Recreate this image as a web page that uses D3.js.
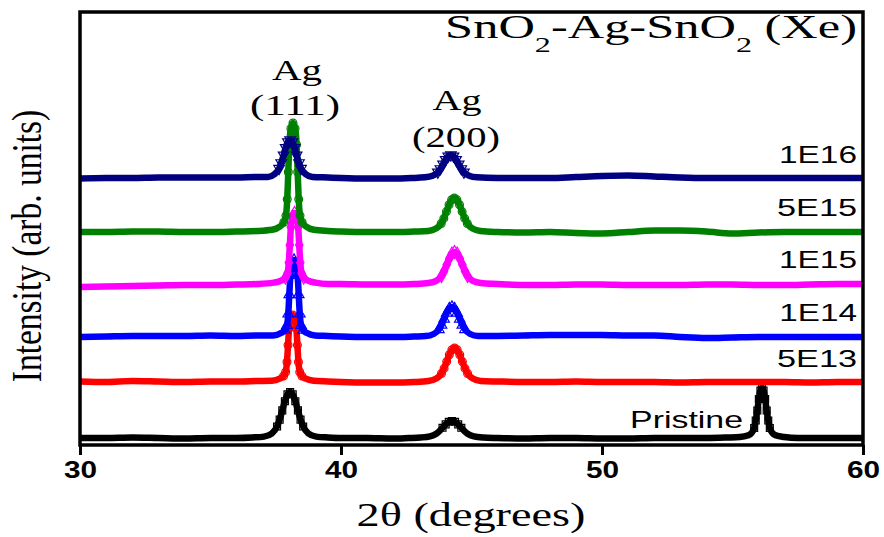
<!DOCTYPE html>
<html>
<head>
<meta charset="utf-8">
<script src="https://cdn.jsdelivr.net/npm/d3@7"></script>
<style>
  body { margin: 0; background: #fff; }
  svg { display: block; }
</style>
</head>
<body>
<svg id="chart" width="884" height="537"></svg>
<script>
// XRD patterns, 2theta (deg) vs intensity (arb. units, already offset per dose)
const dataPristine = [
  [30,7],[31,7],[32,7.5],[33,7],[34,6.5],[35,7],[36,7],[36.6,7.5],
  [37.05,8.4],[37.35,11.6],[37.55,18.5],[37.65,25.4],[37.75,34.6],[37.85,43.8],[37.95,50.7],[38.05,53],[38.15,50.7],[38.25,43.8],[38.35,34.6],[38.45,25.4],[38.55,18.5],[38.75,11.6],[39.05,8.4],
  [39.5,7.5],[40,7],[41,7],[42,6.5],[42.6,7],
  [43.05,7.5],[43.41,8.7],[43.65,11.3],[43.77,13.8],[43.89,17.2],[44.01,20.6],[44.13,23.2],[44.25,24],[44.37,23.2],[44.49,20.6],[44.61,17.2],[44.73,13.8],[44.85,11.3],[45.09,8.7],[45.45,7.5],
  [46,7],[47,6.5],[48,7],[49,7],[50,6.5],[51,6.5],[52,7],[53,7],[54,7],[54.8,7.5],
  [55.28,8],[55.58,9.5],[55.73,12],[55.83,17],[55.89,24.5],[55.95,34.5],[56.01,46],[56.07,54.5],[56.13,57],[56.19,54.5],[56.25,46],[56.31,34.5],[56.37,24.5],[56.43,17],[56.53,12],[56.68,9.5],[56.98,8],
  [57.5,7],[58,7],[59,7],[60,7]
];
const data5E13 = [
  [30,63.5],[31,63],[32,64],[33,63.5],[34,63],[35,63.5],[36,63.5],[36.8,64],
  [37.35,64.3],[37.65,66.4],[37.8,69],[37.88,73],[37.93,83],[37.97,99.9],[38.01,116.6],[38.07,126.7],[38.15,130],[38.23,126.7],[38.29,116.6],[38.33,99.9],[38.37,83],[38.42,73],[38.5,69],[38.65,66.4],[38.95,64.3],
  [39.5,63.5],[40,63],[41,62.5],[42,62.5],[42.8,63],
  [43.35,64],[43.65,66.4],[43.85,71.5],[43.95,76.6],[44.05,83.4],[44.15,90.2],[44.25,95.3],[44.35,97],[44.45,95.3],[44.55,90.2],[44.65,83.4],[44.75,76.6],[44.85,71.5],[45.05,66.4],[45.35,64],
  [46,63.5],[47,63],[48,63],[49,63.5],[50,63],[51,63],[52,63],[53,62.5],[54,63],[55,63],[56,63],[57,63],[58,62.5],[59,63],[60,63]
];
const data1E14 = [
  [30,108],[31,108.5],[32,109],[33,109],[34,109],[35,109.5],[36,109],[36.8,109.5],
  [37.4,109.5],[37.7,111.9],[37.85,114.9],[37.93,119.6],[37.98,131.1],[38.02,150.4],[38.06,169.6],[38.12,181.2],[38.2,185],[38.28,181.2],[38.34,169.6],[38.38,150.4],[38.42,131.1],[38.47,119.6],[38.55,114.9],[38.7,111.9],[39,109.5],
  [39.5,109],[40,108.5],[41,108],[42,108],[42.8,108.5],
  [43.25,108.9],[43.55,111],[43.75,115.5],[43.85,120],[43.95,126],[44.05,132],[44.15,136.5],[44.25,138],[44.35,136.5],[44.45,132],[44.55,126],[44.65,120],[44.75,115.5],[44.95,111],[45.25,108.9],
  [46,109],[47,109.5],[48,110],[49,110],[50,110],[51,109.5],[52,109.5],[53,108],[54,107],[55,107.5],[56,108],[57,108],[58,108],[59,108],[60,108]
];
const data1E15 = [
  [30,158],[31,158.5],[32,159],[33,159.5],[34,160],[35,160],[36,160.5],[36.8,161],
  [37.42,162.4],[37.72,164.6],[37.87,167.4],[37.95,171.7],[38,182.3],[38.04,200],[38.08,217.8],[38.14,228.5],[38.22,232],[38.3,228.5],[38.36,217.8],[38.4,200],[38.44,182.3],[38.49,171.7],[38.57,167.4],[38.72,164.6],[39.02,162.4],
  [39.5,161],[40,161],[41,160.5],[42,160.5],[42.8,161],
  [43.35,162],[43.65,164.2],[43.85,169],[43.95,173.8],[44.05,180.2],[44.15,186.6],[44.25,191.4],[44.35,193],[44.45,191.4],[44.55,186.6],[44.65,180.2],[44.75,173.8],[44.85,169],[45.05,164.2],[45.35,162],
  [46,161],[47,160],[48,160],[49,160.5],[50,160.5],[51,160],[52,160],[53,160],[54,160.5],[55,160.5],[56,160],[57,160],[58,160.5],[59,161],[60,161]
];
const data5E15 = [
  [30,213],[31,213],[32,213.5],[33,213.5],[34,213],[35,213],[36,213.5],[36.8,214],
  [37.36,215.2],[37.66,218.5],[37.81,222.8],[37.89,229.4],[37.94,245.7],[37.98,273],[38.02,300.2],[38.08,316.6],[38.16,322],[38.24,316.6],[38.3,300.2],[38.34,273],[38.38,245.7],[38.43,229.4],[38.51,222.8],[38.66,218.5],[38.96,215.2],
  [39.5,214],[40,213.5],[41,213],[42,213],[42.8,213.5],
  [43.34,214],[43.64,216.4],[43.84,221.5],[43.94,226.6],[44.04,233.4],[44.14,240.2],[44.24,245.3],[44.34,247],[44.44,245.3],[44.54,240.2],[44.64,233.4],[44.74,226.6],[44.84,221.5],[45.04,216.4],[45.34,214],
  [46,213],[47,212.5],[48,213],[49,212],[50,211.5],[51,213],[52,214.5],[53,214.5],[54,213.5],[55,211.5],[56,212.5],[57,213],[58,213],[59,213],[60,213]
];
const data1E16 = [
  [30,266.5],[31,267],[32,267],[33,267.5],[34,267.5],[35,267.5],[36,267.5],[36.7,268],
  [37.2,268.1],[37.45,270.8],[37.63,276.5],[37.71,282.2],[37.8,289.8],[37.88,297.4],[37.965,303.1],[38.05,305],[38.135,303.1],[38.22,297.4],[38.3,289.8],[38.39,282.2],[38.47,276.5],[38.65,270.8],[38.9,268.1],
  [39.5,267.5],[40,267],[41,266.5],[42,266.5],[42.7,267],
  [43.21,267.7],[43.51,269.3],[43.71,272.8],[43.81,276.2],[43.91,280.8],[44.01,285.4],[44.11,288.9],[44.21,290],[44.31,288.9],[44.41,285.4],[44.51,280.8],[44.61,276.2],[44.71,272.8],[44.91,269.3],[45.21,267.7],
  [46,267],[47,267],[48,267],[49,268],[50,269],[51,269.5],[52,268.5],[53,267.5],[54,267],[55,267],[56,267],[57,267],[58,267],[59,267],[60,267]
];

const doseLabels = ['Pristine', '5E13', '1E14', '1E15', '5E15', '1E16'];
const xTicks = [30, 40, 50, 60];

let series = [
  { name: 'Pristine', values: dataPristine, color: '#000000', symbol: d3.symbolSquare, rot: 0 },
  { name: '5E13', values: data5E13, color: '#ff0000', symbol: d3.symbolCircle, rot: 0 },
  { name: '1E14', values: data1E14, color: '#0000ff', symbol: d3.symbolTriangle, rot: 0 },
  { name: '1E15', values: data1E15, color: '#ff00ff', symbol: d3.symbolDiamond, rot: 0 },
  { name: '5E15', values: data5E15, color: '#008000', symbol: d3.symbolCircle, rot: 0 },
  { name: '1E16', values: data1E16, color: '#000080', symbol: d3.symbolTriangle, rot: 180 }
];

let svg = d3.select('#chart');
let margin = { left: 80, right: 21, top: 12, bottom: 92 },
  width = 884 - margin.left - margin.right,
  height = 537 - margin.top - margin.bottom;

let x = d3.scaleLinear().domain([30, 60]).range([margin.left, margin.left + width]);
let y = d3.scaleLinear().domain([0, 433]).range([margin.top + height, margin.top]);

let line = d3.line()
  .x(function(d) { return x(d[0]); })
  .y(function(d) { return y(d[1]); })
  .curve(d3.curveMonotoneX);

// curves, bottom one first; open markers only show up on the peaks
series.forEach(function(s) {
  let g = svg.append('g').attr('class', 'series');
  let base = d3.median(s.values, function(d) { return d[1]; });
  g.append('path')
    .datum(s.values)
    .attr('d', line)
    .attr('fill', 'none')
    .attr('stroke', s.color)
    .attr('stroke-width', 6.5)
    .attr('stroke-linejoin', 'round');
  let sym = d3.symbol().type(s.symbol).size(48);
  g.selectAll('path.pt')
    .data(s.values.filter(function(d) { return d[1] - base > 4; }))
    .enter().append('path')
    .attr('class', 'pt')
    .attr('d', sym)
    .attr('transform', function(d) { return 'translate(' + x(d[0]) + ',' + y(d[1]) + ') rotate(' + s.rot + ')'; })
    .attr('fill', 'none')
    .attr('stroke', s.color)
    .attr('stroke-width', 1.2);
});

// frame
svg.append('rect')
  .attr('x', margin.left).attr('y', margin.top)
  .attr('width', width).attr('height', height)
  .attr('fill', 'none').attr('stroke', '#000').attr('stroke-width', 3.5);

let xAxis = svg.append('g')
  .attr('transform', 'translate(0,' + (margin.top + height) + ')')
  .call(d3.axisBottom(x).tickValues(xTicks).tickSize(10).tickPadding(6).tickFormat(d3.format('d')));
xAxis.select('.domain').remove();
xAxis.selectAll('.tick line').attr('stroke', '#000').attr('stroke-width', 3);
xAxis.selectAll('.tick text')
  .attr('fill', '#000')
  .style('font-family', 'Liberation Sans, Arial, sans-serif')
  .style('font-size', '24px')
  .style('font-weight', 'bold')
  .attr('transform', 'scale(1.24,1)');

// text helper: places a text and stretches it horizontally to a given width
function addText(px, py, build, o) {
  let g = svg.append('g').attr('transform', 'translate(' + px + ',' + py + ')');
  let t = g.append('text')
    .attr('text-anchor', o.anchor || 'middle')
    .attr('fill', '#000')
    .style('font-family', o.family)
    .style('font-size', o.size + 'px')
    .style('font-weight', o.weight || 'normal');
  build(t);
  let w = t.node().getBBox().width;
  g.attr('transform', 'translate(' + px + ',' + py + ') scale(' + (o.width / w) + ',1)');
  return g;
}

let serif = 'Liberation Serif, Times New Roman, serif';
let sans = 'Liberation Sans, Arial, sans-serif';

// dose labels
let labelPos = { 'Pristine': [743, 428, 113], '5E13': [857, 367, 80], '1E14': [857, 321, 78],
  '1E15': [857, 268, 78], '5E15': [857, 216, 80], '1E16': [857, 163, 78] };
doseLabels.forEach(function(name) {
  let p = labelPos[name];
  addText(p[0], p[1], function(t) { t.text(name); }, { anchor: 'end', family: sans, size: 23, width: p[2] });
});

// peak labels
addText(297, 80, function(t) { t.text('Ag'); }, { family: serif, size: 30, width: 50 });
addText(295, 115, function(t) { t.text('(111)'); }, { family: serif, size: 30, width: 90 });
addText(457, 110, function(t) { t.text('Ag'); }, { family: serif, size: 30, width: 49 });
addText(456, 147, function(t) { t.text('(200)'); }, { family: serif, size: 30, width: 88 });

// title
addText(857, 38, function(t) {
  t.append('tspan').text('SnO');
  t.append('tspan').attr('dy', 14).style('font-size', '21px').text('2');
  t.append('tspan').attr('dy', -14).text('-Ag-SnO');
  t.append('tspan').attr('dy', 14).style('font-size', '21px').text('2');
  t.append('tspan').attr('dy', -14).text(' (Xe)');
}, { anchor: 'end', family: serif, size: 33, width: 412 });

// axis titles
addText(471, 526, function(t) { t.text('2\u03b8 (degrees)'); }, { family: serif, size: 34, width: 229 });

svg.append('text')
  .attr('transform', 'translate(41,246) scale(1.25,1) rotate(-90)')
  .attr('text-anchor', 'middle')
  .attr('fill', '#000')
  .style('font-family', serif)
  .style('font-size', '33.5px')
  .text('Intensity (arb. units)');
</script>
</body>
</html>
